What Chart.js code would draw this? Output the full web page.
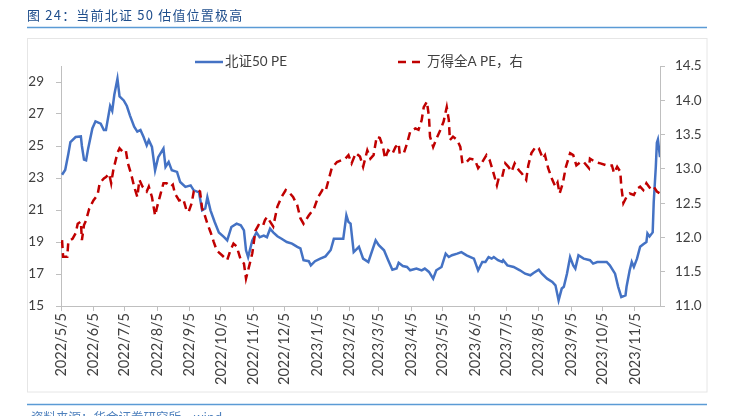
<!DOCTYPE html>
<html>
<head>
<meta charset="utf-8">
<script src="https://cdn.jsdelivr.net/npm/chart.js@4/dist/chart.umd.min.js"></script>
<style>
  body { margin: 0; background: #fff; }
  #wrap { position: relative; width: 731px; height: 416px; overflow: hidden; }
  #chart { position: absolute; left: 0; top: 0; }
  #title { position: absolute; left: 27px; top: 6px; font: 13px "Noto Sans CJK SC", sans-serif; color: #1F4E8C; letter-spacing: 1.2px; line-height: 18px; white-space: nowrap; }
  #source { position: absolute; left: 31px; top: 410px; font: 12.5px "Noto Sans CJK SC", sans-serif; color: #4F81BD; line-height: 14px; white-space: nowrap; }
</style>
</head>
<body>
<div id="wrap">
  <canvas id="chart" width="731" height="416"></canvas>
  <div id="title">图 24：当前北证 50 估值位置极高</div>
  <div id="source">资料来源：华金证券研究所，wind</div>
</div>
<script>
const xTickLabels = ['2022/5/5', '2022/6/5', '2022/7/5', '2022/8/5', '2022/9/5', '2022/10/5', '2022/11/5', '2022/12/5',
    '2023/1/5', '2023/2/5', '2023/3/5', '2023/4/5', '2023/5/5', '2023/6/5', '2023/7/5', '2023/8/5', '2023/9/5',
    '2023/10/5', '2023/11/5'];
const leftTicks = [15, 17, 19, 21, 23, 25, 27, 29];

// 北证50 PE (left axis)
const peDates = ['2022-05-06', '2022-05-09', '2022-05-12', '2022-05-14', '2022-05-19', '2022-05-24', '2022-05-25', '2022-05-27',
    '2022-05-29', '2022-05-31', '2022-06-04', '2022-06-07', '2022-06-12', '2022-06-15', '2022-06-17', '2022-06-21',
    '2022-06-23', '2022-06-25', '2022-06-28', '2022-06-30', '2022-07-04', '2022-07-07', '2022-07-10', '2022-07-14',
    '2022-07-17', '2022-07-20', '2022-07-23', '2022-07-26', '2022-07-28', '2022-07-31', '2022-08-03', '2022-08-06',
    '2022-08-11', '2022-08-13', '2022-08-16', '2022-08-19', '2022-08-24', '2022-08-27', '2022-09-01', '2022-09-06',
    '2022-09-09', '2022-09-14', '2022-09-17', '2022-09-20', '2022-09-22', '2022-09-25', '2022-09-29', '2022-10-03',
    '2022-10-08', '2022-10-11', '2022-10-15', '2022-10-20', '2022-10-24', '2022-10-27', '2022-10-29', '2022-10-31',
    '2022-11-04', '2022-11-08', '2022-11-11', '2022-11-15', '2022-11-18', '2022-11-21', '2022-11-24', '2022-11-28',
    '2022-12-02', '2022-12-07', '2022-12-12', '2022-12-17', '2022-12-20', '2022-12-23', '2022-12-28', '2022-12-30',
    '2023-01-03', '2023-01-08', '2023-01-13', '2023-01-18', '2023-01-21', '2023-01-30', '2023-02-02', '2023-02-04',
    '2023-02-06', '2023-02-09', '2023-02-14', '2023-02-18', '2023-02-23', '2023-03-02', '2023-03-05', '2023-03-10',
    '2023-03-14', '2023-03-18', '2023-03-22', '2023-03-24', '2023-03-28', '2023-04-01', '2023-04-04', '2023-04-10',
    '2023-04-15', '2023-04-18', '2023-04-22', '2023-04-26', '2023-04-29', '2023-05-04', '2023-05-08', '2023-05-11',
    '2023-05-14', '2023-05-19', '2023-05-23', '2023-05-28', '2023-06-04', '2023-06-08', '2023-06-12', '2023-06-15',
    '2023-06-18', '2023-06-21', '2023-06-23', '2023-06-27', '2023-07-01', '2023-07-02', '2023-07-06', '2023-07-12',
    '2023-07-18', '2023-07-23', '2023-07-28', '2023-07-31', '2023-08-05', '2023-08-08', '2023-08-13', '2023-08-18',
    '2023-08-21', '2023-08-24', '2023-08-27', '2023-08-29', '2023-09-01', '2023-09-04', '2023-09-07', '2023-09-09',
    '2023-09-12', '2023-09-17', '2023-09-23', '2023-09-26', '2023-09-30', '2023-10-09', '2023-10-12', '2023-10-17',
    '2023-10-20', '2023-10-23', '2023-10-27', '2023-10-28', '2023-10-31', '2023-11-02', '2023-11-04', '2023-11-07',
    '2023-11-10', '2023-11-13', '2023-11-16', '2023-11-17', '2023-11-19', '2023-11-22', '2023-11-23', '2023-11-25',
    '2023-11-26', '2023-11-27', '2023-11-29'];
const peValues = [23.2, 23.5, 24.5, 25.25, 25.56, 25.6, 25.0, 24.15,
    24.1, 24.85, 26.1, 26.54, 26.4, 26.0, 26.0, 27.5,
    27.2, 28.2, 29.2, 28.1, 27.85, 27.5, 26.9, 26.2,
    25.9, 26.0, 25.56, 25.04, 25.36, 24.94, 23.48, 24.3,
    24.84, 23.7, 24.0, 23.48, 23.38, 22.75, 22.44, 22.54,
    22.23, 22.1, 20.98, 21.1, 21.8, 20.98, 20.25, 19.6,
    19.3, 19.1, 19.94, 20.15, 20.04, 19.73, 18.48, 18.06,
    19.1, 19.6, 19.3, 19.4, 19.3, 19.83, 19.6, 19.36,
    19.2, 19.0, 18.9, 18.7, 18.6, 17.86, 17.8, 17.54,
    17.8, 17.96, 18.1, 18.5, 19.2, 19.2, 20.67, 20.25,
    20.15, 18.37, 18.7, 17.96, 17.75, 19.1, 18.8, 18.48,
    17.86, 17.27, 17.34, 17.7, 17.5, 17.44, 17.23, 17.34,
    17.23, 17.34, 17.13, 16.71, 17.23, 17.44, 18.27, 18.06,
    18.17, 18.27, 18.37, 18.17, 17.96, 17.23, 17.75, 17.75,
    18.06, 17.96, 18.06, 17.86, 17.75, 17.86, 17.54, 17.44,
    17.23, 17.02, 16.92, 17.06, 17.27, 17.02, 16.71, 16.5,
    16.29, 15.35, 16.09, 16.2, 17.02, 18.06, 17.54, 17.34,
    18.17, 17.96, 17.86, 17.65, 17.75, 17.75, 17.54, 17.02,
    16.2, 15.56, 15.66, 16.2, 17.23, 17.75, 17.44, 17.96,
    18.7, 18.86, 19.0, 19.54, 19.35, 19.6, 21.5, 23.7,
    25.2, 25.4, 24.3];

// 万得全A PE (right axis)
const allADates = ['2022-05-06', '2022-05-07', '2022-05-11', '2022-05-12', '2022-05-16', '2022-05-19', '2022-05-21', '2022-05-24',
    '2022-05-25', '2022-05-27', '2022-05-29', '2022-06-01', '2022-06-05', '2022-06-09', '2022-06-11', '2022-06-15',
    '2022-06-17', '2022-06-20', '2022-06-22', '2022-06-24', '2022-06-28', '2022-06-30', '2022-07-03', '2022-07-06',
    '2022-07-08', '2022-07-11', '2022-07-14', '2022-07-17', '2022-07-19', '2022-07-22', '2022-07-26', '2022-07-28',
    '2022-07-31', '2022-08-03', '2022-08-05', '2022-08-08', '2022-08-11', '2022-08-14', '2022-08-18', '2022-08-20',
    '2022-08-22', '2022-08-26', '2022-08-30', '2022-09-02', '2022-09-04', '2022-09-07', '2022-09-09', '2022-09-12',
    '2022-09-15', '2022-09-17', '2022-09-19', '2022-09-22', '2022-09-25', '2022-09-28', '2022-10-01', '2022-10-06',
    '2022-10-11', '2022-10-14', '2022-10-17', '2022-10-20', '2022-10-24', '2022-10-27', '2022-10-29', '2022-10-31',
    '2022-11-04', '2022-11-07', '2022-11-10', '2022-11-14', '2022-11-16', '2022-11-18', '2022-11-21', '2022-11-24',
    '2022-11-28', '2022-12-02', '2022-12-06', '2022-12-09', '2022-12-13', '2022-12-17', '2022-12-20', '2022-12-23',
    '2022-12-28', '2023-01-02', '2023-01-06', '2023-01-10', '2023-01-13', '2023-01-16', '2023-01-19', '2023-01-24',
    '2023-01-29', '2023-02-01', '2023-02-04', '2023-02-07', '2023-02-11', '2023-02-15', '2023-02-18', '2023-02-22',
    '2023-02-25', '2023-02-28', '2023-03-03', '2023-03-06', '2023-03-09', '2023-03-11', '2023-03-14', '2023-03-18',
    '2023-03-21', '2023-03-24', '2023-03-25', '2023-03-29', '2023-04-01', '2023-04-04', '2023-04-09', '2023-04-12',
    '2023-04-15', '2023-04-17', '2023-04-20', '2023-04-22', '2023-04-23', '2023-04-26', '2023-04-30', '2023-05-03',
    '2023-05-06', '2023-05-09', '2023-05-11', '2023-05-12', '2023-05-15', '2023-05-19', '2023-05-22', '2023-05-24',
    '2023-05-28', '2023-05-31', '2023-06-05', '2023-06-08', '2023-06-12', '2023-06-16', '2023-06-19', '2023-06-22',
    '2023-06-26', '2023-06-28', '2023-07-01', '2023-07-04', '2023-07-07', '2023-07-10', '2023-07-13', '2023-07-17',
    '2023-07-20', '2023-07-24', '2023-07-26', '2023-07-29', '2023-08-02', '2023-08-05', '2023-08-09', '2023-08-11',
    '2023-08-14', '2023-08-18', '2023-08-21', '2023-08-23', '2023-08-25', '2023-08-28', '2023-08-31', '2023-09-04',
    '2023-09-07', '2023-09-10', '2023-09-14', '2023-09-17', '2023-09-22', '2023-09-23', '2023-09-28', '2023-10-03',
    '2023-10-09', '2023-10-14', '2023-10-16', '2023-10-19', '2023-10-22', '2023-10-23', '2023-10-25', '2023-10-28',
    '2023-10-31', '2023-11-04', '2023-11-07', '2023-11-10', '2023-11-13', '2023-11-16', '2023-11-20', '2023-11-23',
    '2023-11-26', '2023-11-29'];
const allAValues = [11.96, 11.72, 11.72, 11.94, 11.98, 12.06, 12.2, 12.23,
    11.96, 12.18, 12.25, 12.42, 12.54, 12.62, 12.79, 12.86,
    12.88, 12.93, 12.79, 12.98, 13.23, 13.3, 13.25, 13.27,
    13.08, 12.93, 12.74, 12.59, 12.84, 12.74, 12.67, 12.74,
    12.59, 12.32, 12.45, 12.62, 12.79, 12.79, 12.74, 12.77,
    12.64, 12.54, 12.56, 12.4, 12.37, 12.5, 12.67, 12.7,
    12.67, 12.42, 12.35, 12.2, 12.08, 11.94, 11.81, 11.74,
    11.67, 11.81, 11.91, 11.87, 11.67, 11.62, 11.4, 11.52,
    11.77, 12.1, 12.18, 12.16, 12.25, 12.3, 12.23, 12.16,
    12.45, 12.59, 12.69, 12.66, 12.59, 12.47, 12.28, 12.2,
    12.32, 12.42, 12.59, 12.69, 12.67, 12.84, 13.01, 13.1,
    13.13, 13.15, 13.2, 13.08, 13.23, 13.18, 13.03, 13.27,
    13.15, 13.2, 13.47, 13.45, 13.32, 13.15, 13.27, 13.22,
    13.32, 13.37, 13.22, 13.23, 13.37, 13.54, 13.59, 13.57,
    13.71, 13.9, 13.98, 13.76, 13.47, 13.32, 13.47, 13.57,
    13.69, 13.9, 13.71, 13.42, 13.47, 13.42, 13.32, 13.08,
    13.1, 13.15, 13.13, 13.01, 13.1, 13.2, 13.13, 12.98,
    12.76, 12.88, 12.88, 13.08, 13.03, 12.96, 13.08, 12.98,
    12.93, 12.84, 13.05, 13.23, 13.32, 13.3, 13.15, 13.2,
    13.01, 12.84, 12.74, 12.8, 12.64, 12.79, 13.03, 13.23,
    13.2, 13.05, 13.1, 13.1, 13.01, 13.15, 13.1, 13.08,
    13.05, 13.05, 12.94, 13.03, 12.96, 12.74, 12.5, 12.59,
    12.64, 12.62, 12.71, 12.74, 12.69, 12.79, 12.71, 12.74,
    12.67, 12.64];

const base = Date.UTC(2022, 4, 5);
function dayOf(s) {
    const p = s.split(/[-\/]/).map(Number);
    return (Date.UTC(p[0], p[1] - 1, p[2]) - base) / 86400000;
}

const font = 'Lato, "Noto Sans CJK SC", sans-serif';
const axisGrey = '#BFBFBF';
const textColor = '#404040';

const frameAndLegend = {
    id: 'frameAndLegend',
    beforeDraw(chart) {
        const c = chart.ctx;
        c.save();
        c.strokeStyle = '#5B9BD5';
        c.lineWidth = 1.5;
        c.beginPath();
        c.moveTo(27, 27.5); c.lineTo(707, 27.5);
        c.moveTo(27, 404.5); c.lineTo(707, 404.5);
        c.stroke();
        c.strokeStyle = '#E6E6E6';
        c.lineWidth = 1;
        c.strokeRect(27.5, 38.5, 679.5, 353.5);
        c.restore();
    },
    afterDraw(chart) {
        const c = chart.ctx;
        c.save();
        c.font = '13.5px ' + font;
        c.fillStyle = textColor;
        c.textBaseline = 'middle';
        c.lineWidth = 2.5;
        c.strokeStyle = '#4472C4';
        c.beginPath(); c.moveTo(195, 62); c.lineTo(223, 62); c.stroke();
        c.fillText('北证50 PE', 225, 62);
        c.strokeStyle = '#C00000';
        c.setLineDash([8, 6]);
        c.beginPath(); c.moveTo(398, 62); c.lineTo(424, 62); c.stroke();
        c.setLineDash([]);
        c.fillText('万得全A PE，右', 427, 62);
        c.restore();
    }
};

new Chart(document.getElementById('chart').getContext('2d'), {
    type: 'line',
    data: {
        datasets: [{
            label: '北证50 PE',
            data: peDates.map((d, i) => ({ x: dayOf(d), y: peValues[i] })),
            yAxisID: 'y',
            borderColor: '#4472C4',
            borderWidth: 2.5,
            pointRadius: 0,
            order: 1
        }, {
            label: '万得全A PE，右',
            data: allADates.map((d, i) => ({ x: dayOf(d), y: allAValues[i] })),
            yAxisID: 'y1',
            borderColor: '#C00000',
            borderWidth: 2.5,
            borderDash: [8, 5],
            pointRadius: 0,
            order: 0
        }]
    },
    options: {
        responsive: false,
        animation: false,
        layout: { padding: { top: 66, left: 0, right: 0, bottom: 0 } },
        plugins: { legend: { display: false }, tooltip: { enabled: false } },
        scales: {
            x: {
                type: 'linear',
                min: 0,
                max: 573,
                afterBuildTicks: s => { s.ticks = xTickLabels.map(l => ({ value: dayOf(l) })); },
                afterFit: s => { s.height = 110; },
                ticks: {
                    autoSkip: false,
                    minRotation: 90,
                    maxRotation: 90,
                    padding: 2,
                    color: textColor,
                    font: { family: font, size: 14.5 },
                    callback: (v, i) => xTickLabels[i]
                },
                grid: { drawOnChartArea: false, tickLength: 5, color: axisGrey },
                border: { color: axisGrey }
            },
            y: {
                position: 'left',
                min: 15,
                max: 30,
                afterBuildTicks: s => { s.ticks = leftTicks.map(v => ({ value: v })); },
                afterFit: s => { s.width = 61; },
                ticks: { padding: 12, color: textColor, font: { family: font, size: 13.5 } },
                grid: { drawOnChartArea: false, tickLength: 5, color: axisGrey },
                border: { color: axisGrey }
            },
            y1: {
                position: 'right',
                min: 11,
                max: 14.5,
                afterFit: s => { s.width = 71; },
                ticks: {
                    stepSize: 0.5,
                    padding: 10,
                    color: textColor,
                    font: { family: font, size: 13.5 },
                    callback: v => v.toFixed(1)
                },
                grid: { drawOnChartArea: false, tickLength: 5, color: axisGrey },
                border: { color: axisGrey }
            }
        }
    },
    plugins: [frameAndLegend]
});
</script>
</body>
</html>
